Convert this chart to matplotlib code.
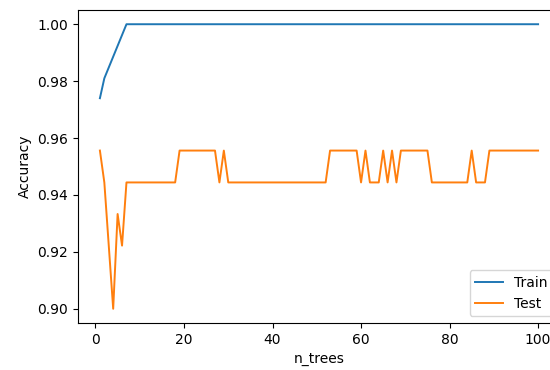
import matplotlib
matplotlib.use("Agg")
import matplotlib.pyplot as plt

n_trees = list(range(1, 101))

train_acc = [
    0.974, 0.981, 0.9848, 0.9886, 0.9924, 0.9962, 1.0, 1.0, 1.0, 1.0,
    1.0, 1.0, 1.0, 1.0, 1.0, 1.0, 1.0, 1.0, 1.0, 1.0,
    1.0, 1.0, 1.0, 1.0, 1.0, 1.0, 1.0, 1.0, 1.0, 1.0,
    1.0, 1.0, 1.0, 1.0, 1.0, 1.0, 1.0, 1.0, 1.0, 1.0,
    1.0, 1.0, 1.0, 1.0, 1.0, 1.0, 1.0, 1.0, 1.0, 1.0,
    1.0, 1.0, 1.0, 1.0, 1.0, 1.0, 1.0, 1.0, 1.0, 1.0,
    1.0, 1.0, 1.0, 1.0, 1.0, 1.0, 1.0, 1.0, 1.0, 1.0,
    1.0, 1.0, 1.0, 1.0, 1.0, 1.0, 1.0, 1.0, 1.0, 1.0,
    1.0, 1.0, 1.0, 1.0, 1.0, 1.0, 1.0, 1.0, 1.0, 1.0,
    1.0, 1.0, 1.0, 1.0, 1.0, 1.0, 1.0, 1.0, 1.0, 1.0,
]

test_acc = [
    0.9556, 0.9444, 0.9222, 0.9000, 0.9333, 0.9222, 0.9444, 0.9444, 0.9444, 0.9444,
    0.9444, 0.9444, 0.9444, 0.9444, 0.9444, 0.9444, 0.9444, 0.9444, 0.9556, 0.9556,
    0.9556, 0.9556, 0.9556, 0.9556, 0.9556, 0.9556, 0.9556, 0.9444, 0.9556, 0.9444,
    0.9444, 0.9444, 0.9444, 0.9444, 0.9444, 0.9444, 0.9444, 0.9444, 0.9444, 0.9444,
    0.9444, 0.9444, 0.9444, 0.9444, 0.9444, 0.9444, 0.9444, 0.9444, 0.9444, 0.9444,
    0.9444, 0.9444, 0.9556, 0.9556, 0.9556, 0.9556, 0.9556, 0.9556, 0.9556, 0.9444,
    0.9556, 0.9444, 0.9444, 0.9444, 0.9556, 0.9444, 0.9556, 0.9444, 0.9556, 0.9556,
    0.9556, 0.9556, 0.9556, 0.9556, 0.9556, 0.9444, 0.9444, 0.9444, 0.9444, 0.9444,
    0.9444, 0.9444, 0.9444, 0.9444, 0.9556, 0.9444, 0.9444, 0.9444, 0.9556, 0.9556,
    0.9556, 0.9556, 0.9556, 0.9556, 0.9556, 0.9556, 0.9556, 0.9556, 0.9556, 0.9556,
]

plt.rcParams["font.size"] = 10

fig = plt.figure(figsize=(5.5, 3.7), dpi=100)
# the reference is cut off on the right, so the axes run past the figure edge
ax = fig.add_axes([78 / 550, 47 / 370, 482 / 550, 313 / 370])

ax.plot(n_trees, train_acc, label="Train", linewidth=1.4)
ax.plot(n_trees, test_acc, label="Test", linewidth=1.4)
ax.set_xlabel("n_trees")
ax.set_ylabel("Accuracy")
ax.legend(loc="lower right")

fig.savefig("out.png", dpi=100)
